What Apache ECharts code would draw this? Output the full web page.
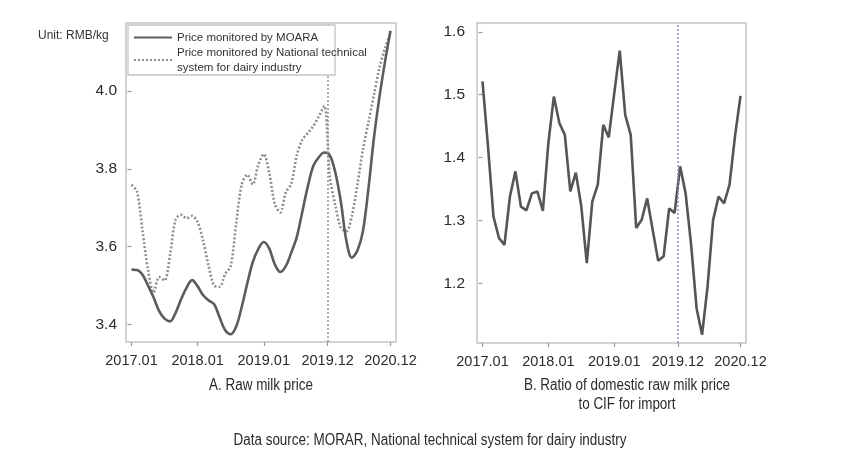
<!DOCTYPE html>
<html>
<head>
<meta charset="utf-8">
<script src="https://cdn.jsdelivr.net/npm/echarts@6/dist/echarts.min.js"></script>
<style>
html,body{margin:0;padding:0;background:#fff;}
#c{width:851px;height:475px;}
</style>
</head>
<body>
<div id="c"></div>
<script>
// ---- data (monthly, 2017.01 .. 2020.12) ----
const tickLabels = ['2017.01', '2018.01', '2019.01', '2019.12', '2020.12'];
const tickMonth = [0, 12, 24, 35.6, 47];
const markerMonth = 35.6;

const moaraPrice = [
  3.541, 3.540, 3.528, 3.500, 3.470, 3.435, 3.415, 3.408, 3.430, 3.465, 3.495, 3.514,
  3.498, 3.475, 3.462, 3.452, 3.418, 3.385, 3.375, 3.395, 3.445, 3.505, 3.560, 3.594,
  3.612, 3.595, 3.555, 3.535, 3.550, 3.585, 3.625, 3.690, 3.755, 3.808, 3.830, 3.842,
  3.835, 3.790, 3.715, 3.615, 3.572, 3.590, 3.640, 3.750, 3.880, 3.985, 4.075, 4.155
];
const nationalPrice = [
  3.759, 3.742, 3.640, 3.540, 3.482, 3.522, 3.513, 3.580, 3.670, 3.682, 3.673, 3.679,
  3.663, 3.615, 3.550, 3.500, 3.497, 3.530, 3.550, 3.660, 3.760, 3.785, 3.760, 3.810,
  3.838, 3.790, 3.710, 3.688, 3.740, 3.762, 3.835, 3.875, 3.892, 3.910, 3.935, 3.962,
  3.780, 3.705, 3.648, 3.640, 3.680, 3.760, 3.850, 3.920, 3.990, 4.060, 4.110, 4.150
];
const priceRatio = [
  1.521, 1.418, 1.306, 1.272, 1.261, 1.338, 1.378, 1.322, 1.316, 1.343, 1.346, 1.315,
  1.423, 1.497, 1.455, 1.436, 1.346, 1.376, 1.322, 1.232, 1.330, 1.357, 1.452, 1.432,
  1.502, 1.570, 1.468, 1.436, 1.288, 1.301, 1.335, 1.285, 1.236, 1.243, 1.319, 1.312,
  1.386, 1.343, 1.262, 1.160, 1.118, 1.195, 1.300, 1.338, 1.327, 1.357, 1.434, 1.498
];
const leftTicks = [3.4, 3.6, 3.8, 4.0];
const rightTicks = [1.2, 1.3, 1.4, 1.5, 1.6];

const seriesNames = ['Price monitored by MOARA', 'Price monitored by National technical\nsystem for dairy industry'];
const unitText = 'Unit: RMB/kg';
const captionA = 'A. Raw milk price';
const captionB = 'B. Ratio of domestic raw milk price\nto CIF for import';
const sourceText = 'Data source: MORAR, National technical system for dairy industry';

// ---- chart ----
const REG = "'Liberation Sans', Arial, sans-serif";
const toPairs = arr => arr.map((v, i) => [i, v]);

function xAxisCfg(gridIndex) {
  return {
    type: 'value', gridIndex, min: -1, max: 48,
    axisLine: { show: false },
    splitLine: { show: false },
    axisTick: { show: true, length: 4, inside: false, customValues: tickMonth,
      lineStyle: { color: '#9a9a9a', width: 1.2 } },
    axisLabel: { customValues: tickMonth, margin: 11, color: '#2b2b2b',
      fontFamily: REG, fontSize: 14.5,
      formatter: v => { const k = tickMonth.findIndex(t => Math.abs(t - v) < 1e-6); return k >= 0 ? tickLabels[k] : ''; } }
  };
}
function yAxisCfg(gridIndex, min, max, ticks, margin) {
  return {
    type: 'value', gridIndex, min, max,
    axisLine: { show: false },
    splitLine: { show: false },
    axisTick: { show: true, length: 4, customValues: ticks, lineStyle: { color: '#9a9a9a', width: 1.2 } },
    axisLabel: { customValues: ticks, margin, color: '#2b2b2b', fontFamily: REG, fontSize: 15.5,
      formatter: v => v.toFixed(1) }
  };
}
const markerLine = {
  silent: true, symbol: ['none', 'none'], label: { show: false },
  lineStyle: { type: [2, 2], color: '#8f8fb0', width: 1.5 },
  data: [{ xAxis: markerMonth }]
};

function scaledText(text, x, y, lh) {
  return { type: 'text', x, y, scaleX: 0.84, z: 20,
    style: { text, x: 0, y: 0, textAlign: 'center', textVerticalAlign: 'middle', fill: '#2b2b2b',
      font: '16px ' + REG, lineHeight: lh || 19 } };
}

const chart = echarts.init(document.getElementById('c'), null, { renderer: 'canvas' });
chart.setOption({
  animation: false,
  backgroundColor: '#ffffff',
  grid: [
    { left: 126, top: 23, width: 270, height: 319, show: true, borderColor: '#c4c4c4', borderWidth: 1.5 },
    { left: 477, top: 23, width: 269, height: 320, show: true, borderColor: '#c4c4c4', borderWidth: 1.5 }
  ],
  xAxis: [xAxisCfg(0), xAxisCfg(1)],
  yAxis: [yAxisCfg(0, 3.355, 4.175, leftTicks, 9), yAxisCfg(1, 1.105, 1.614, rightTicks, 12)],
  legend: {
    left: 128, top: 27, orient: 'vertical', z: 30,
    itemWidth: 38, itemHeight: 10, itemGap: 0,
    padding: [3, 6, 3, 5],
    itemStyle: { opacity: 0 },
    textStyle: { fontFamily: REG, fontSize: 11.5, color: '#333', lineHeight: 15 },
    data: seriesNames
  },
  series: [
    { name: seriesNames[0], type: 'line', xAxisIndex: 0, yAxisIndex: 0, data: toPairs(moaraPrice),
      symbol: 'none', smooth: 0.35, lineStyle: { color: '#5c5c5c', width: 2.6 }, itemStyle: { color: '#5c5c5c' },
      z: 3 },
    { name: seriesNames[1], type: 'line', xAxisIndex: 0, yAxisIndex: 0, data: toPairs(nationalPrice),
      symbol: 'none', smooth: 0.3, lineStyle: { color: '#8e8e8e', width: 2.6, type: [2, 2] }, itemStyle: { color: '#8e8e8e' },
      markLine: markerLine, z: 2 },
    { name: 'ratio', type: 'line', xAxisIndex: 1, yAxisIndex: 1, data: toPairs(priceRatio),
      symbol: 'none', smooth: false, lineStyle: { color: '#555555', width: 2.6 },
      markLine: markerLine, z: 3 }
  ],
  graphic: [
    { type: 'rect', z: 25, shape: { x: 128, y: 25, width: 207, height: 50 },
      style: { fill: '#ffffff', stroke: '#c4c4c4', lineWidth: 1.3 } },
    { type: 'text', left: 38, top: 30, style: { text: unitText, fill: '#333', font: '12px ' + REG } },
    scaledText(captionA, 261, 386),
    scaledText(captionB, 627, 395),
    scaledText(sourceText, 430, 441)
  ]
});
</script>
</body>
</html>
